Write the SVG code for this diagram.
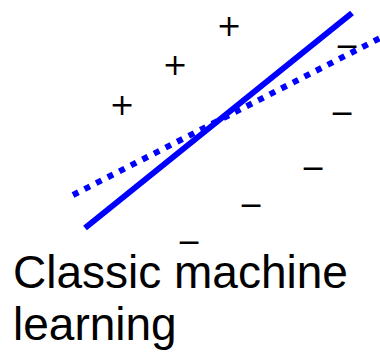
<svg xmlns="http://www.w3.org/2000/svg" width="380" height="357" viewBox="0 0 380 357">
<style>
.sym{font-family:"DejaVu Sans",sans-serif;font-size:30px;fill:#000;text-anchor:middle}
.lbl{font-family:"Liberation Sans",Arial,sans-serif;font-size:46px;fill:#000}
</style>
<rect width="380" height="357" fill="#fff"/>
<g id="connectors">
<line x1="85" y1="228" x2="352" y2="13" stroke="#0000ff" stroke-width="6"/>
<line x1="73" y1="195" x2="384" y2="36" stroke="#0000ff" stroke-width="6" stroke-dasharray="6 7"/>
</g>
<g id="plus1"><text class="sym" x="229" y="36">+</text></g>
<g id="plus2"><text class="sym" x="175" y="75">+</text></g>
<g id="plus3"><text class="sym" x="122" y="115">+</text></g>
<g id="minus1"><text class="sym" x="347" y="56">−</text></g>
<g id="minus2"><text class="sym" x="342" y="123">−</text></g>
<g id="minus3"><text class="sym" x="313" y="178">−</text></g>
<g id="minus4"><text class="sym" x="251" y="215">−</text></g>
<g id="minus5"><text class="sym" x="189" y="252">−</text></g>
<g id="label"><text class="lbl" x="13" y="288">Classic machine</text><text class="lbl" x="13" y="340">learning</text></g>
</svg>
